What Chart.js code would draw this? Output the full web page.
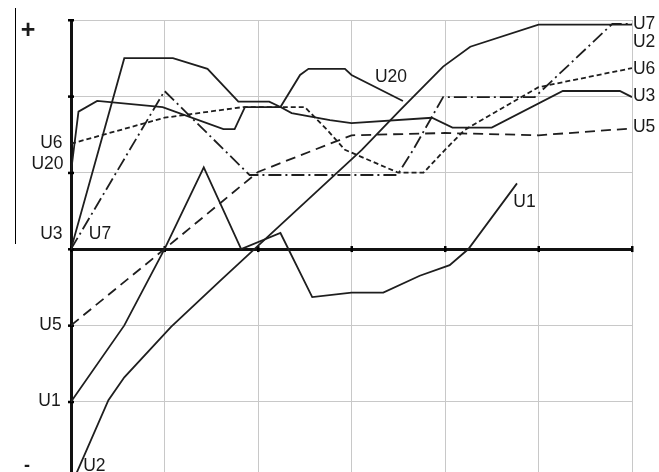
<!DOCTYPE html>
<html>
<head>
<meta charset="utf-8">
<script src="https://cdn.jsdelivr.net/npm/chart.js@4"></script>
<style>
  html, body { margin: 0; padding: 0; background: #fff; }
  #wrap { position: relative; width: 659px; height: 472px; }
  #edge { position: absolute; left: 15px; top: 8px; width: 1px; height: 236px; background: #000; }
</style>
</head>
<body>
<div id="wrap"><canvas id="chart"></canvas><div id="edge"></div></div>
<script>
// 軸目盛（グリッド単位）
const xTicks = [0, 1, 2, 3, 4, 5, 6];
const yTicks = [-2, -1, 0, 1, 2, 3];

// 各曲線の値
const u1X = [0, 0.57, 1.0, 1.42, 1.82, 2.24, 2.58, 3.0, 3.34, 3.73, 4.05, 4.25, 4.77];
const u1Y = [-2, -1, 0, 1.07, 0, 0.21, -0.63, -0.57, -0.57, -0.35, -0.21, 0, 0.86];

const u2X = [0, 0.4, 0.57, 1.07, 1.6, 1.97, 3.11, 3.52, 3.98, 4.27, 5.0, 6.0];
const u2Y = [-3.1, -1.98, -1.68, -1.02, -0.41, 0.01, 1.3, 1.82, 2.39, 2.65, 2.94, 2.94];

const u3X = [0, 0.57, 1.09, 1.46, 1.79, 2.12, 2.24, 2.36, 2.77, 3.0, 3.86, 4.08, 4.5, 5.26, 5.87, 6.0];
const u3Y = [0, 2.5, 2.5, 2.36, 1.93, 1.93, 1.86, 1.78, 1.69, 1.65, 1.72, 1.59, 1.59, 2.07, 2.07, 1.99];

const u5X = [0, 1.0, 2.0, 3.0, 4.0, 5.0, 6.0];
const u5Y = [-1, 0, 1.01, 1.49, 1.52, 1.49, 1.58];

const u6X = [0, 1.0, 1.84, 2.5, 2.74, 2.93, 3.5, 3.77, 4.0, 4.21, 5.0, 6.0];
const u6Y = [1.38, 1.72, 1.86, 1.86, 1.56, 1.3, 1.0, 1.0, 1.3, 1.56, 2.12, 2.37];

const u7X = [0, 1.0, 1.91, 3.49, 3.66, 3.98, 4.96, 5.79, 6.0];
const u7Y = [0, 2.07, 0.97, 0.97, 1.3, 1.99, 1.99, 2.95, 2.95];

const u20X = [0, 0.08, 0.28, 0.98, 1.63, 1.75, 1.86, 2.24, 2.45, 2.54, 2.93, 3.0, 3.55];
const u20Y = [1.01, 1.8, 1.94, 1.86, 1.57, 1.57, 1.86, 1.86, 2.28, 2.36, 2.36, 2.28, 1.94];

// 曲線名の位置（グリッド単位）
const labelTexts = ['U6', 'U20', 'U3', 'U5', 'U1', 'U7', 'U2', 'U7', 'U2', 'U6', 'U3', 'U5', 'U20', 'U1'];
const labelX = [-0.09, -0.08, -0.09, -0.1, -0.11, 0.19, 0.13, 6.01, 6.01, 6.01, 6.01, 6.01, 3.25, 4.73];
const labelY = [1.39, 1.11, 0.2, -1.0, -1.99, 0.2, -2.84, 2.94, 2.71, 2.36, 2.0, 1.59, 2.25, 0.62];
const labelAlign = ['right', 'right', 'right', 'right', 'right', 'left', 'left', 'left', 'left', 'left', 'left', 'left', 'left', 'left'];

function pts(xs, ys) {
    return xs.map((x, i) => ({ x: x, y: ys[i] }));
}

const ink = '#1e1e1e';

function curve(label, xs, ys, dash) {
    return {
        label: label,
        data: pts(xs, ys),
        borderColor: ink,
        borderWidth: 1.8,
        borderDash: dash,
        pointRadius: 0,
        tension: 0,
        fill: false
    };
}

// 軸上の小さな目盛と文字
const decor = {
    id: 'decor',
    beforeDatasetsDraw(chart) {
        const ctx = chart.ctx;
        const xs = chart.scales.x, ys = chart.scales.y;
        const x0 = xs.getPixelForValue(0), y0 = ys.getPixelForValue(0);
        ctx.save();
        ctx.fillStyle = '#000';
        yTicks.forEach(v => {
            const py = ys.getPixelForValue(v);
            ctx.fillRect(x0 - 3, py - 1, 6, 2.5);
        });
        xTicks.forEach(v => {
            const px = xs.getPixelForValue(v);
            ctx.fillRect(px - 1, y0 - 3, 2.5, 6);
        });
        ctx.restore();
    },
    afterDatasetsDraw(chart) {
        const ctx = chart.ctx;
        const xs = chart.scales.x, ys = chart.scales.y;
        ctx.save();
        ctx.fillStyle = '#1a1a1a';
        ctx.textBaseline = 'middle';
        ctx.font = '17.5px "Liberation Sans", Arial, sans-serif';
        labelTexts.forEach((t, i) => {
            ctx.textAlign = labelAlign[i];
            ctx.fillText(t, xs.getPixelForValue(labelX[i]), ys.getPixelForValue(labelY[i]));
        });
        ctx.font = 'bold 25px "Liberation Sans", Arial, sans-serif';
        ctx.textAlign = 'center';
        ctx.fillText('+', xs.getPixelForValue(-0.46), ys.getPixelForValue(2.86));
        ctx.font = 'bold 18px "Liberation Sans", Arial, sans-serif';
        ctx.fillText('-', xs.getPixelForValue(-0.47), ys.getPixelForValue(-2.84));
        ctx.restore();
    }
};

const gridColor = c => (c.tick && c.tick.value === 0) ? '#111' : '#c8c8c8';
const gridWidth = c => (c.tick && c.tick.value === 0) ? 3 : 1;

new Chart(document.getElementById('chart').getContext('2d'), {
    type: 'line',
    data: {
        datasets: [
            curve('U1', u1X, u1Y, []),
            curve('U2', u2X, u2Y, []),
            curve('U3', u3X, u3Y, []),
            curve('U5', u5X, u5Y, [10, 6]),
            curve('U6', u6X, u6Y, [5, 3]),
            curve('U7', u7X, u7Y, [13, 4, 2, 4]),
            curve('U20', u20X, u20Y, [])
        ]
    },
    options: {
        responsive: true,
        maintainAspectRatio: false,
        animation: false,
        layout: { padding: { left: 71, right: 27, top: 20, bottom: 0 } },
        plugins: {
            legend: { display: false },
            tooltip: { enabled: false }
        },
        scales: {
            x: {
                type: 'linear',
                min: 0,
                max: 6,
                afterBuildTicks: s => { s.ticks = xTicks.map(v => ({ value: v })); },
                ticks: { display: false },
                border: { display: false },
                grid: { color: gridColor, lineWidth: gridWidth, drawTicks: false }
            },
            y: {
                type: 'linear',
                min: -2.92,
                max: 3,
                afterBuildTicks: s => { s.ticks = yTicks.map(v => ({ value: v })); },
                ticks: { display: false },
                border: { display: false },
                grid: { color: gridColor, lineWidth: gridWidth, drawTicks: false }
            }
        }
    },
    plugins: [decor]
});
</script>
</body>
</html>
